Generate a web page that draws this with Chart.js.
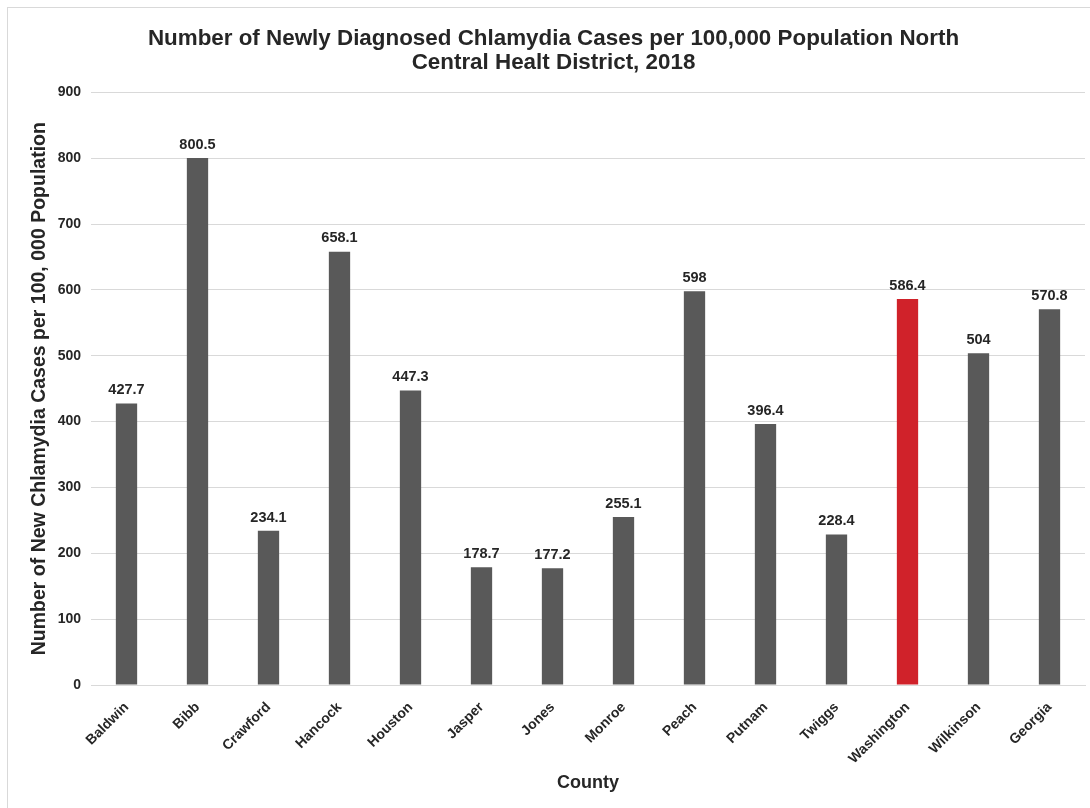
<!DOCTYPE html>
<html>
<head>
<meta charset="utf-8">
<script src="https://cdn.jsdelivr.net/npm/chart.js@4.4.1/dist/chart.umd.min.js"></script>
<style>
  html, body { margin: 0; padding: 0; background: #ffffff; }
  #wrap { position: relative; width: 1090px; height: 808px; overflow: hidden; }
  #frame { position: absolute; left: 7px; top: 7px; width: 1200px; height: 900px; border: 1px solid #d9d9d9; box-sizing: border-box; }
  canvas { position: absolute; left: 0; top: 0; }
</style>
</head>
<body>
<div id="wrap">
  <div id="frame"></div>
  <canvas id="c" width="1090" height="808"></canvas>
</div>
<script>
const categories = ["Baldwin", "Bibb", "Crawford", "Hancock", "Houston", "Jasper", "Jones", "Monroe", "Peach", "Putnam", "Twiggs", "Washington", "Wilkinson", "Georgia"];
const rates = [427.7, 800.5, 234.1, 658.1, 447.3, 178.7, 177.2, 255.1, 598, 396.4, 228.4, 586.4, 504, 570.8];
const highlighted = ["Washington"];
const yTicks = [0, 100, 200, 300, 400, 500, 600, 700, 800, 900];

const FONT = "'Liberation Sans', Arial, sans-serif";
const barColors = categories.map(c => highlighted.includes(c) ? '#d0222a' : '#595959');

const valueLabels = {
  id: 'valueLabels',
  afterDatasetsDraw(chart) {
    const ctx = chart.ctx;
    const meta = chart.getDatasetMeta(0);
    ctx.save();
    ctx.font = "bold 14.5px " + FONT;
    ctx.fillStyle = '#262626';
    ctx.textAlign = 'center';
    ctx.textBaseline = 'bottom';
    meta.data.forEach((el, i) => {
      ctx.fillText(String(chart.data.datasets[0].data[i]), el.x, el.y - 6);
    });
    ctx.restore();
  }
};

new Chart(document.getElementById('c'), {
  type: 'bar',
  data: {
    labels: categories,
    datasets: [{
      data: rates,
      backgroundColor: barColors,
      borderWidth: 0,
      barPercentage: 0.3,
      categoryPercentage: 1.0
    }]
  },
  options: {
    responsive: false,
    animation: false,
    devicePixelRatio: 1,
    layout: { padding: { left: 22, right: 5, top: 0, bottom: 14 } },
    plugins: {
      legend: { display: false },
      tooltip: { enabled: false },
      title: {
        display: true,
        text: ["Number of Newly Diagnosed Chlamydia Cases per 100,000 Population North", "Central Healt District, 2018"],
        color: '#262626',
        font: { family: FONT, size: 22.4, weight: 'bold', lineHeight: 1.08 },
        padding: { top: 27, bottom: 17 }
      }
    },
    scales: {
      x: {
        grid: { display: false, drawTicks: false },
        border: { display: true, color: '#d9d9d9', width: 1 },
        ticks: {
          color: '#262626',
          font: { family: FONT, size: 14, weight: 'bold' },
          maxRotation: 45, minRotation: 45,
          padding: 14
        },
        title: {
          display: true,
          text: 'County',
          color: '#262626',
          font: { family: FONT, size: 18, weight: 'bold' },
          padding: { top: 6, bottom: 0 }
        },
        afterFit(scale) { scale.height = 109; }
      },
      y: {
        min: 0, max: 900,
        afterBuildTicks(scale) { scale.ticks = yTicks.map(v => ({ value: v })); },
        grid: { color: '#d9d9d9', lineWidth: 1, drawTicks: false },
        border: { display: false },
        ticks: {
          color: '#262626',
          font: { family: FONT, size: 14, weight: 'bold' },
          padding: 10
        },
        title: {
          display: true,
          text: 'Number of New Chlamydia Cases per 100, 000 Population',
          color: '#262626',
          font: { family: FONT, size: 19.5, weight: 'bold' },
          padding: { top: 6, bottom: 6 }
        },
        afterFit(scale) { scale.width = 69; }
      }
    }
  },
  plugins: [valueLabels]
});
</script>
</body>
</html>
